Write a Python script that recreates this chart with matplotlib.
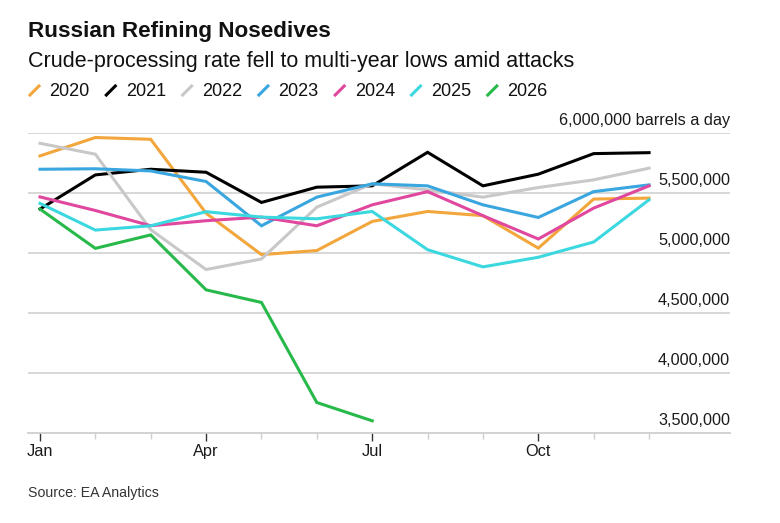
import matplotlib
matplotlib.use('Agg')
import matplotlib.pyplot as plt  # Drawing
from matplotlib.lines import Line2D
from matplotlib.transforms import blended_transform_factory

plt.rcParams['font.family'] = ['Liberation Sans', 'DejaVu Sans']

# Data (barrels a day)
months = ['Jan', 'Feb', 'Mar', 'Apr', 'May', 'Jun', 'Jul', 'Aug', 'Sep', 'Oct', 'Nov', 'Dec']
years = ['2020', '2021', '2022', '2023', '2024', '2025', '2026']
y2020 = [5807000, 5960000, 5945000, 5330000, 4986000, 5020000, 5262000, 5345000, 5310000, 5040000, 5448000, 5456000]
y2021 = [5365000, 5649000, 5696000, 5671000, 5420000, 5547000, 5558000, 5837000, 5558000, 5655000, 5826000, 5834000]
y2022 = [5912000, 5821000, 5193000, 4862000, 4950000, 5381000, 5575000, 5525000, 5464000, 5544000, 5608000, 5705000]
y2023 = [5696000, 5700000, 5682000, 5594000, 5226000, 5464000, 5575000, 5558000, 5400000, 5295000, 5510000, 5566000]
y2024 = [5466000, 5353000, 5226000, 5268000, 5298000, 5226000, 5400000, 5510000, 5310000, 5116000, 5373000, 5558000]
y2025 = [5412000, 5190000, 5226000, 5343000, 5298000, 5284000, 5345000, 5027000, 4884000, 4964000, 5091000, 5442000]
y2026 = [5365000, 5038000, 5150000, 4693000, 4588000, 3756000, 3604000]
series = [y2020, y2021, y2022, y2023, y2024, y2025, y2026]
colors = ['#f2a63c', '#000000', '#c8c8c8', '#3aa6e0', '#e0479e', '#3cd8e0', '#27b94a']
yticks = [3500000, 4000000, 4500000, 5000000, 5500000, 6000000]

fig = plt.figure(figsize=(7.8, 5.23), dpi=100)
W, H = 780, 523

# axes placed in pixels: left 28, right 730, top 132.7, bottom 433.3
ax = fig.add_axes([28 / W, (H - 433.3) / H, (730 - 28) / W, (433.3 - 132.7) / H])

x_all = list(range(len(months)))
for vals, col in zip(series, colors):
    ax.plot(x_all[:len(vals)], vals, color=col, linewidth=2.2, clip_on=False,
            solid_joinstyle='miter')

ax.set_xlim(-12 / 55.4, 11 + 81 / 55.4)
ax.set_ylim(3500000, 6000000)

# horizontal grid lines
for v in yticks[1:]:
    ax.axhline(v, color='#d4d4d4', linewidth=1.3, zorder=0)

for s in ['top', 'left', 'right']:
    ax.spines[s].set_visible(False)
ax.spines['bottom'].set_color('#cfcfcf')
ax.spines['bottom'].set_linewidth(1.3)

# x ticks: long dark ticks at quarters, short light ticks each month
ax.set_xticks(x_all, minor=True)
ax.set_xticks([0, 3, 6, 9])
ax.set_xticklabels([months[i] for i in [0, 3, 6, 9]])
ax.tick_params(axis='x', which='major', length=6, width=1, color='#333333',
               labelsize=11.8, labelcolor='#1a1a1a', pad=2)
ax.tick_params(axis='x', which='minor', length=4, width=1, color='#d0d0d0')
ax.set_yticks([])

# y labels right-aligned above the grid lines
tr = blended_transform_factory(ax.transAxes, ax.transData)
for v in yticks:
    label = f'{v:,}'
    if v == yticks[-1]:
        label += ' barrels a day'
    ax.annotate(label, (1.0, v), xycoords=tr, xytext=(0, 5), textcoords='offset pixels',
                ha='right', va='bottom', fontsize=11.7, color='#1a1a1a')

# titles
fig.text(28 / W, 1 - 36.7 / H, 'Russian Refining Nosedives', fontsize=16.2, fontweight='bold',
         color='#111111', va='baseline', ha='left')
fig.text(28 / W, 1 - 66.5 / H, 'Crude-processing rate fell to multi-year lows amid attacks',
         fontsize=15.5, color='#111111', va='baseline', ha='left')

# legend with slash markers
for i, (yr, col) in enumerate(zip(years, colors)):
    x0 = 30 + i * 76.3
    fig.add_artist(Line2D([x0 / W, (x0 + 9) / W], [1 - 95 / H, 1 - 86 / H],
                          transform=fig.transFigure, color=col, linewidth=2.2))
    fig.text((x0 + 19.5) / W, 1 - 96.5 / H, yr, fontsize=13, color='#111111',
             va='baseline', ha='left')

fig.text(28 / W, 1 - 493 / H, 'Source: EA Analytics', fontsize=10.2, color='#333333',
         va='center', ha='left')

plt.savefig('out.png', dpi=100)
